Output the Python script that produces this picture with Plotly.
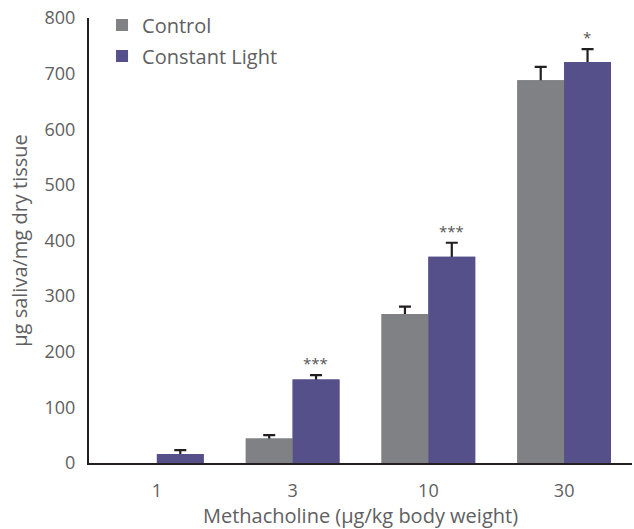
import plotly.graph_objects as go

doses = ["1", "3", "10", "30"]
control = [None, 44, 268, 688]
control_err = [0, 6, 13, 24]
light = [16, 150, 371, 721]
light_err = [7, 8, 25, 23]
light_sig = ["", "***", "***", "*"]
y_ticks = [0, 100, 200, 300, 400, 500, 600, 700, 800]

FONT = "Open Sans"
TXT = "#606062"
GRAY = "#808184"
PURPLE = "#55508a"
ERR = dict(type="data", symmetric=False, color="#231f20", thickness=2.2, width=6)

fig = go.Figure()
# bars carrying the error bars (base cap sunk into the bar)
fig.add_bar(x=doses, y=control, name="Control", marker_color=GRAY,
            marker_line_width=0, offsetgroup="c", legendgroup="c",
            error_y=dict(ERR, array=control_err, arrayminus=[4]*4))
fig.add_bar(x=doses, y=light, name="Constant Light", marker_color=PURPLE,
            marker_line_width=0, offsetgroup="l", legendgroup="l",
            error_y=dict(ERR, array=light_err, arrayminus=[4]*4))
# same bars drawn again on top to hide the lower cap
fig.add_bar(x=doses, y=control, marker_color=GRAY, marker_line_width=0,
            offsetgroup="c", showlegend=False, hoverinfo="skip")
fig.add_bar(x=doses, y=light, marker_color=PURPLE, marker_line_width=0,
            offsetgroup="l", showlegend=False, hoverinfo="skip")

for i, (v, e, s) in enumerate(zip(light, light_err, light_sig)):
    if s:
        fig.add_annotation(x=i, y=v + e, text=s, showarrow=False, xshift=23,
                           yanchor="bottom", yshift=0,
                           font=dict(family=FONT, size=15, color="#555"))

fig.update_layout(
    width=634, height=529,
    margin=dict(l=89, r=2, t=18, b=66, autoexpand=False),
    paper_bgcolor="white", plot_bgcolor="white",
    barmode="group", bargap=0.31, bargroupgap=0,
    font=dict(family=FONT, size=18, color=TXT),
    showlegend=True,
    legend=dict(x=0.024, y=1.028, xanchor="left", yanchor="top",
                font=dict(family=FONT, size=20, color=TXT),
                traceorder="grouped", tracegroupgap=2, itemwidth=30,
                bgcolor="rgba(0,0,0,0)"),
    xaxis=dict(type="category", range=[-0.5, 3.5], showline=True,
               linecolor="#231f20", linewidth=2,
               tickfont=dict(family=FONT, size=18, color=TXT),
               ticks="", showgrid=False, ticklabelstandoff=10, automargin=False,
               title=dict(text="Methacholine (μg/kg body weight)", standoff=2,
                          font=dict(family=FONT, size=20, color=TXT))),
    yaxis=dict(range=[0, 800], tickvals=y_ticks, showline=True,
               linecolor="#231f20", linewidth=2, ticks="", showgrid=False,
               tickfont=dict(family=FONT, size=18, color=TXT),
               zeroline=False, ticklabelstandoff=8, automargin=False,
               title=dict(text="μg saliva/mg dry tissue", standoff=12,
                          font=dict(family=FONT, size=20, color=TXT))),
)
fig.write_html("out.html", config={"displayModeBar": False},
               post_script="document.body.style.margin='0';")
